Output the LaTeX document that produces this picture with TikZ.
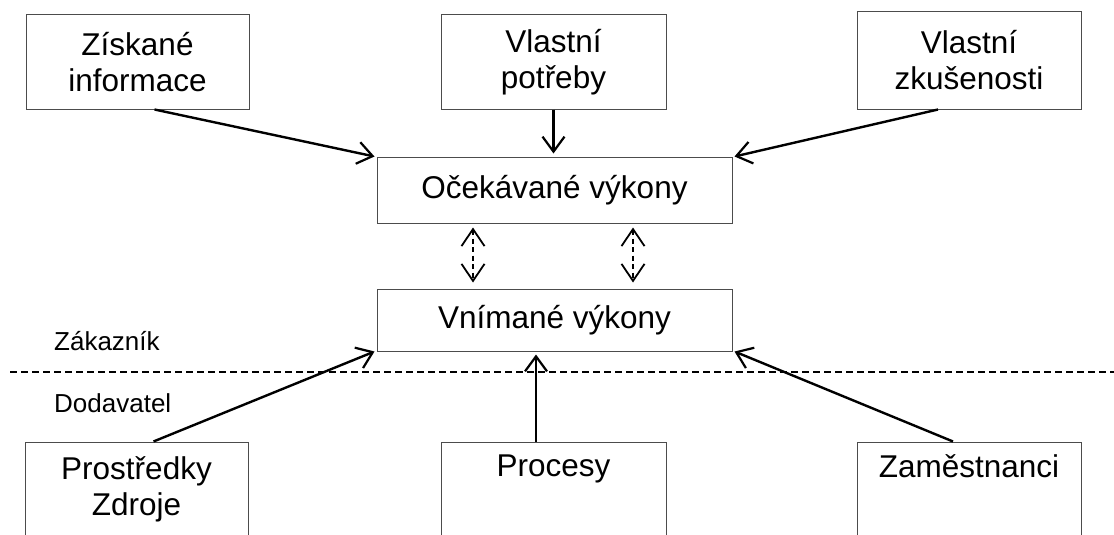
\documentclass[tikz,border=0pt]{standalone}
\usepackage{fontspec}
\setmainfont{Liberation Sans}
\usetikzlibrary{arrows.meta}

\tikzset{
  box/.style={draw=black!70, line width=1pt, inner sep=0pt, align=center,
    font=\fontsize{31.5}{36}\selectfont},
  flow/.style={line width=2.4pt, -{Straight Barb[length=15pt,width=22pt,line width=2.2pt]}},
  link/.style={line width=1.7pt, dash pattern=on 5pt off 3.5pt,
    {Straight Barb[length=17pt,width=23pt,line width=1.8pt]}-{Straight Barb[length=17pt,width=23pt,line width=1.8pt]}},
  side/.style={anchor=west, inner sep=0pt, font=\fontsize{26}{30}\selectfont},
  divider/.style={line width=1.2pt, dash pattern=on 7pt off 4pt}
}

\begin{document}
\begin{tikzpicture}[x=1pt, y=-1pt]
  \clip (0,0) rectangle (1114,535);
  \fill[white] (0,0) rectangle (1114,535);

  % sources of expectations
  \node[box, minimum width=223pt, minimum height=94pt] (zisk) at (137.5,62) {Získané\\informace};
  \node[box, minimum width=225pt, minimum height=94pt] (potr) at (553.5,62) {Vlastní\\potřeby};
  \node[box, minimum width=224pt, minimum height=97pt] (zkus) at (969,60.5) {Vlastní\\zkušenosti};

  % expected and perceived performance
  \node[box, minimum width=355pt, minimum height=66pt] (oce) at (554.5,190) {Očekávané výkony};
  \node[box, minimum width=355pt, minimum height=62pt] (vni) at (554.5,320) {Vnímané výkony};

  % supplier side (boxes run past the lower edge)
  \node[box, minimum width=223pt, minimum height=94pt] (pros) at (136.5,489) {Prostředky\\Zdroje};
  \node[box, minimum width=225pt, minimum height=94pt] (proc) at (553.5,489) {Procesy\\\strut};
  \node[box, minimum width=224pt, minimum height=94pt] (zam) at (969,489) {Zaměstnanci\\\strut};

  % customer / supplier boundary
  \coordinate (lineL) at (10,372);
  \coordinate (lineR) at (1114,372);
  \draw[divider] (lineL) -- (lineR);
  \node[side] (zak) at (54,341) {Zákazník};
  \node[side] (dod) at (54,403) {Dodavatel};

  % influences on expectations
  \draw[flow] ([xshift=17pt]zisk.south) -- ([xshift=-2pt]oce.north west);
  \draw[flow, shorten >=3pt] (potr.south) -- (potr.south |- oce.north);
  \draw[flow] ([xshift=-31pt]zkus.south) -- ([xshift=2pt]oce.north east);

  % expectation <-> perception
  \draw[link, shorten <=4pt, shorten >=6pt] ([xshift=-81.5pt]oce.south) -- ([xshift=-81.5pt]vni.north);
  \draw[link, shorten <=4pt, shorten >=6pt] ([xshift=78.5pt]oce.south) -- ([xshift=78.5pt]vni.north);

  % influences on perception
  \draw[flow] ([xshift=17pt]pros.north) -- ([xshift=-2pt]vni.south west);
  \draw[flow, shorten >=3pt] ([xshift=-17.5pt]proc.north) -- ([xshift=-18.5pt]vni.south);
  \draw[flow] ([xshift=-16pt]zam.north) -- ([xshift=2pt]vni.south east);
\end{tikzpicture}
\end{document}
